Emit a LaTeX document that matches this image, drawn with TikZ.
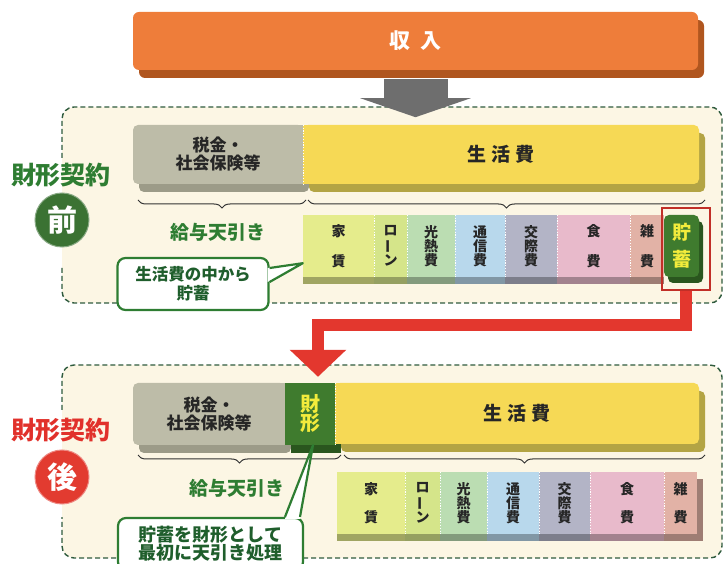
\documentclass[tikz,border=0pt]{standalone}
\usepackage{fontspec}
\setmainfont{Noto Sans CJK JP}
\usetikzlibrary{arrows.meta,shadows,decorations.pathreplacing}

\definecolor{incomeorange}{HTML}{EE7D3A}
\definecolor{incomeshade}{HTML}{B0561F}
\definecolor{flowgray}{HTML}{6E6E6E}
\definecolor{cream}{HTML}{FCF6E4}
\definecolor{dashgreen}{HTML}{2F5B3E}
\definecolor{taxgray}{HTML}{BDBCA8}
\definecolor{taxshade}{HTML}{9C9B88}
\definecolor{lifeyellow}{HTML}{F6D955}
\definecolor{lifeshade}{HTML}{B3A444}
\definecolor{labelgreen}{HTML}{2E7D32}
\definecolor{calloutgreen}{HTML}{1F5E2C}
\definecolor{labelred}{HTML}{E1312B}
\definecolor{savegreen}{HTML}{3F7B2E}
\definecolor{saveshade}{HTML}{2A561E}
\definecolor{saveyellow}{HTML}{F3EC3C}
\definecolor{badgegreen}{HTML}{3B7233}
\definecolor{badgered}{HTML}{E23B30}
\definecolor{arrowred}{HTML}{E3372E}
\definecolor{cYachin}{HTML}{E5EC8C}
\definecolor{cLoan}{HTML}{D5E58A}
\definecolor{cKonetsu}{HTML}{BBDDB2}
\definecolor{cTsushin}{HTML}{B8D8EC}
\definecolor{cKosai}{HTML}{B3B4C6}
\definecolor{cShoku}{HTML}{E8BACB}
\definecolor{cZappi}{HTML}{E2B2A6}

\tikzset{
  block/.style={inner sep=0pt, align=center, text=black!85, font=\bfseries\fontsize{17}{18}\selectfont},
  lifted/.style={copy shadow={shadow xshift=6pt, shadow yshift=-8pt, fill=#1, draw=none}},
  cat/.style={fill=#1, minimum height=62pt, inner sep=0pt, align=center, text=black!85,
    font=\bfseries\fontsize{14}{14}\selectfont,
    copy shadow={shadow xshift=0pt, shadow yshift=-7pt, fill=#1!70!black, draw=none}},
  sep/.style={draw=white, line width=1.2pt, dash pattern=on 1.2pt off 1.6pt},
  region/.style={draw=dashgreen, line width=1.4pt, dash pattern=on 5pt off 3pt, rounded corners=12pt},
  brc/.style={decorate, decoration={brace, amplitude=8pt}, draw=black!80, line width=1pt},
  callout/.style={draw=labelgreen, line width=2.2pt, fill=white, rounded corners=8pt, inner sep=0pt,
    align=center, text=calloutgreen, font=\bfseries\fontsize{16.5}{19}\selectfont},
  ptr/.style={draw=labelgreen, line width=2.2pt, line join=round},
  plan/.style={font=\bfseries\fontsize{25}{25}\selectfont},
  deduct/.style={text=labelgreen, font=\bfseries\fontsize{19}{19}\selectfont},
  badge/.style={circle, minimum size=54pt, inner sep=0pt, text=white, font=\bfseries\fontsize{30}{30}\selectfont},
  grayflow/.style={draw=flowgray, line width=64pt, -{Triangle[width=110pt,length=19pt]}},
  redflow/.style={draw=arrowred, line width=12pt, -{Triangle[width=55pt,length=27pt]}},
}

\begin{document}
\begin{tikzpicture}[x=1pt,y=-1pt]
    \useasboundingbox (0,0) rectangle (724,564);

    % dashed areas
    \fill[cream, rounded corners=12pt] (62,107) rectangle (722,303);
    \draw[region] (62,158) -- (62,107) -- (722,107) -- (722,303) -- (62,303) -- (62,265);
    \fill[cream, rounded corners=12pt] (62,365) rectangle (722,558);
    \draw[region] (62,410) -- (62,365) -- (722,365) -- (722,558) -- (62,558) -- (62,517);

    % income
    \node[block, fill=incomeorange, rounded corners=6pt, minimum width=565pt, minimum height=58pt,
      text=white, lifted=incomeshade, font=\bfseries\fontsize{21}{21}\selectfont]
      (income) at (415.5,41) {収\hspace{10pt}入};
    \draw[grayflow] ([yshift=-9pt]income.south) -- ++(0,38);

    % before
    \node[plan, text=labelgreen] (plan1) at (61,175) {財形契約};
    \node[badge, fill=badgegreen, draw=badgegreen!60!white, line width=1pt] (before) at (62,220) {前};

    \node[block, fill=taxgray, rounded corners=5pt, minimum width=170pt, minimum height=59pt,
      lifted=taxshade] (tax1) at (218,154.5) {税金・\\社会保険等};
    \fill[taxgray] ([xshift=-8pt]tax1.north east) rectangle (tax1.south east);
    \node[block, fill=lifeyellow, rounded corners=5pt, minimum width=396pt, minimum height=59pt,
      lifted=lifeshade, font=\bfseries\fontsize{19}{19}\selectfont]
      (life1) at (501,154.5) {生\hspace{5pt}活\hspace{5pt}費};
    \fill[lifeyellow] (life1.north west) rectangle ([xshift=8pt]life1.south west);
    \draw[sep] (tax1.north east) -- (tax1.south east);

    \draw[brc] (306,200) -- (138,200);
    \draw[brc] (705,200) -- (308,200);
    \node[deduct] (kyuyo1) at (218,232) {給与天引き};

    \node[cat=cYachin, minimum width=71pt] (yachin1) at (338.5,246) {家\\[16pt]賃};
    \node[cat=cLoan, minimum width=33pt] (loan1) at (390.5,246) {ロ\\\rotatebox[origin=c]{90}{ー}\\ン};
    \node[cat=cKonetsu, minimum width=48pt] (konetsu1) at (431,246) {光\\熱\\費};
    \node[cat=cTsushin, minimum width=50pt] (tsushin1) at (480,246) {通\\信\\費};
    \node[cat=cKosai, minimum width=52pt] (kosai1) at (531,246) {交\\際\\費};
    \node[cat=cShoku, minimum width=73pt] (shoku1) at (593.5,246) {食\\[16pt]費};
    \node[cat=cZappi, minimum width=34pt] (zappi1) at (647,246) {雑\\[16pt]費};
    \node[block, fill=savegreen, rounded corners=5pt, minimum width=35pt, minimum height=62pt,
      text=saveyellow, font=\bfseries\fontsize{19}{19}\selectfont,
      copy shadow={shadow xshift=4pt, shadow yshift=-6pt, fill=saveshade, draw=none}]
      (chochiku) at (681.5,246) {貯\\[8pt]蓄};
    \foreach \c in {yachin1,loan1,konetsu1,tsushin1,kosai1,shoku1}
    \draw[sep] (\c.north east) -- (\c.south east);
    \node[draw=arrowred!85!black, line width=1.3pt, minimum width=48pt, minimum height=82pt,
      inner sep=0pt] (hl) at (686,249) {};

    \node[callout, minimum width=151pt, minimum height=52pt] (note1) at (193,284) {生活費の中から\\貯蓄};
    \fill[white] ([xshift=-2pt,yshift=16pt]note1.east) -- ([yshift=14pt]yachin1.south west)
      -- ([xshift=-2pt,yshift=2pt]note1.east) -- cycle;
    \draw[ptr] ([yshift=16pt]note1.east) -- ([yshift=14pt]yachin1.south west) -- ([yshift=2pt]note1.east);

    % after
    \node[plan, text=labelred] (plan2) at (61,430) {財形契約};
    \node[badge, fill=badgered, draw=badgered!60!white, line width=1pt] (after) at (62,477) {後};

    \node[block, fill=taxgray, rounded corners=5pt, minimum width=152pt, minimum height=62pt,
      lifted=taxshade] (tax2) at (209,414) {税金・\\社会保険等};
    \fill[taxgray] ([xshift=-8pt]tax2.north east) rectangle (tax2.south east);
    \node[block, fill=savegreen, minimum width=50pt, minimum height=62pt, lifted=saveshade,
      text=saveyellow, font=\bfseries\fontsize{20}{19}\selectfont] (zaikei) at (310,414) {財\\形};
    \node[block, fill=lifeyellow, rounded corners=5pt, minimum width=364pt, minimum height=61pt,
      lifted=lifeshade, font=\bfseries\fontsize{19}{19}\selectfont]
      (life2) at (517,413.5) {生\hspace{5pt}活\hspace{5pt}費};
    \fill[lifeyellow] (life2.north west) rectangle ([xshift=8pt]life2.south west);
    \draw[sep] (zaikei.north east) -- (zaikei.south east);

    \draw[redflow] (hl.south) -- ++(0,34) -| ([xshift=8pt,yshift=6pt]zaikei.north);

    \draw[brc] (341,455) -- (138,455);
    \draw[brc] (705,455) -- (344,455);
    \node[deduct] (kyuyo2) at (237,488) {給与天引き};

    \node[cat=cYachin, minimum width=68pt] (yachin2) at (371,503) {家\\[14pt]賃};
    \node[cat=cLoan, minimum width=35pt] (loan2) at (422.5,503) {ロ\\\rotatebox[origin=c]{90}{ー}\\ン};
    \node[cat=cKonetsu, minimum width=47pt] (konetsu2) at (463.5,503) {光\\熱\\費};
    \node[cat=cTsushin, minimum width=52pt] (tsushin2) at (513,503) {通\\信\\費};
    \node[cat=cKosai, minimum width=51pt] (kosai2) at (564.5,503) {交\\際\\費};
    \node[cat=cShoku, minimum width=74pt] (shoku2) at (627,503) {食\\[14pt]費};
    \node[cat=cZappi, minimum width=33pt,
      copy shadow={shadow xshift=6pt, shadow yshift=-7pt, fill=cZappi!70!black, draw=none}]
      (zappi2) at (680.5,503) {雑\\[14pt]費};
    \foreach \c in {yachin2,loan2,konetsu2,tsushin2,kosai2,shoku2}
    \draw[sep] (\c.north east) -- (\c.south east);

    \node[callout, minimum width=185pt, minimum height=52pt, font=\bfseries\fontsize{18}{18}\selectfont]
      (note2) at (210.5,544) {貯蓄を財形として\\最初に天引き処理};
    \fill[white] ([xshift=74.5pt,yshift=-2pt]note2.north) -- ([xshift=3pt]zaikei.south)
      -- ([xshift=89.5pt,yshift=-2pt]note2.north) -- cycle;
    \draw[ptr] ([xshift=74.5pt]note2.north) -- ([xshift=3pt]zaikei.south) -- ([xshift=89.5pt]note2.north);
\end{tikzpicture}
\end{document}
